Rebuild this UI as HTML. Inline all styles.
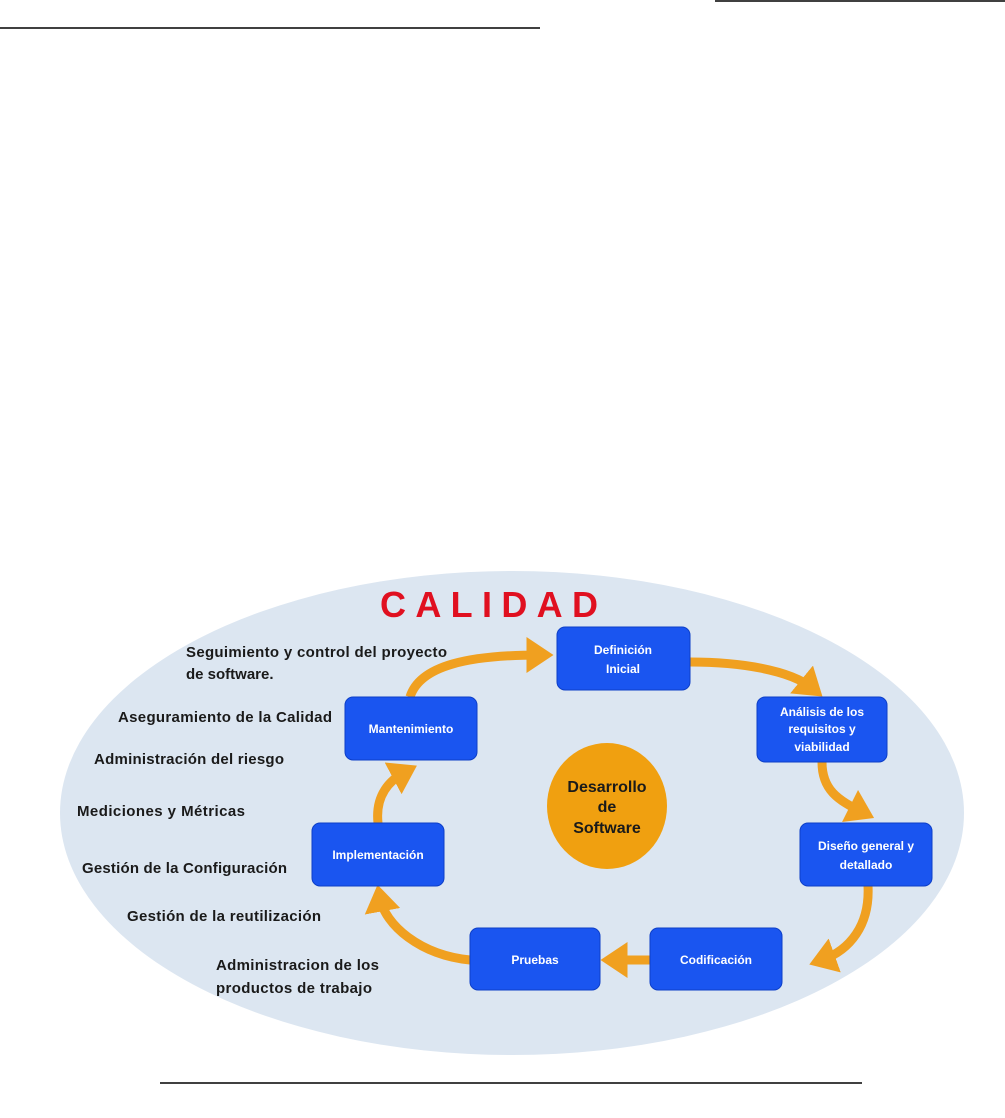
<!DOCTYPE html>
<html><head><meta charset="utf-8"><style>
html,body{margin:0;padding:0;background:#fff;width:1005px;height:1118px;overflow:hidden}
svg{display:block}
.l{font-family:"Liberation Sans",sans-serif;font-weight:bold;font-size:15px;fill:#1a1a1a}
.b{font-family:"Liberation Sans",sans-serif;font-weight:bold;font-size:12px;fill:#fff}
</style></head><body>
<svg width="1005" height="1118" viewBox="0 0 1005 1118">
<line x1="0" y1="28" x2="540" y2="28" stroke="#000" stroke-width="1.5"/>
<line x1="715" y1="1" x2="1005" y2="1" stroke="#000" stroke-width="1.5"/>
<line x1="160" y1="1083" x2="862" y2="1083" stroke="#000" stroke-width="1.5"/>
<ellipse cx="512" cy="813" rx="452" ry="242" fill="#dce6f1"/>
<text x="380" y="617" font-family="Liberation Sans,sans-serif" font-weight="bold" font-size="36" fill="#e01020" letter-spacing="10" textLength="228">CALIDAD</text>
<defs><marker id="a" markerWidth="4" markerHeight="4" refX="1.5" refY="2" orient="auto" markerUnits="strokeWidth"><path d="M0,0 L3,2 L0,4 Z" fill="#f0a020"/></marker></defs>
<g fill="none" stroke="#f0a020" stroke-width="9">
<path d="M410,697 C420,665 470,655 540,655" marker-end="url(#a)"/>
<path d="M690,662 C740,662 790,670 812,688" marker-end="url(#a)"/>
<path d="M822,762 C822,790 838,800 862,812" marker-end="url(#a)"/>
<path d="M868,886 C870,925 850,950 822,960" marker-end="url(#a)"/>
<path d="M650,960 L614,960" marker-end="url(#a)"/>
<path d="M470,960 C420,955 385,925 380,898" marker-end="url(#a)"/>
<path d="M378,823 C375,795 390,780 405,772" marker-end="url(#a)"/>
</g>
<g fill="#1a55f0" stroke="#0d3fc8" stroke-width="1">
<rect x="557" y="627" width="133" height="63" rx="8"/>
<rect x="757" y="697" width="130" height="65" rx="8"/>
<rect x="345" y="697" width="132" height="63" rx="8"/>
<rect x="800" y="823" width="132" height="63" rx="8"/>
<rect x="312" y="823" width="132" height="63" rx="8"/>
<rect x="470" y="928" width="130" height="62" rx="8"/>
<rect x="650" y="928" width="132" height="62" rx="8"/>
</g>
<ellipse cx="607" cy="806" rx="60" ry="63" fill="#f0a010"/>
<g text-anchor="middle" font-family="Liberation Sans,sans-serif" font-weight="bold" font-size="16" fill="#1a1a1a">
<text x="607" y="792">Desarrollo</text><text x="607" y="812">de</text><text x="607" y="833">Software</text>
</g>
<g text-anchor="middle" class="b">
<text class="b" x="623" y="654">Definición</text><text class="b" x="623" y="673">Inicial</text>
<text class="b" x="822" y="716">Análisis de los</text><text class="b" x="822" y="733">requisitos y</text><text class="b" x="822" y="751">viabilidad</text>
<text class="b" x="411" y="733">Mantenimiento</text>
<text class="b" x="866" y="850">Diseño general y</text><text class="b" x="866" y="869">detallado</text>
<text class="b" x="378" y="859">Implementación</text>
<text class="b" x="535" y="964">Pruebas</text>
<text class="b" x="716" y="964">Codificación</text>
</g>
<g class="l">
<text class="l" x="186" y="657" textLength="261">Seguimiento y control del proyecto</text>
<text class="l" x="186" y="679">de software.</text>
<text class="l" x="118" y="722" textLength="214">Aseguramiento de la Calidad</text>
<text class="l" x="94" y="764" textLength="190">Administración del riesgo</text>
<text class="l" x="77" y="816" textLength="168">Mediciones y Métricas</text>
<text class="l" x="82" y="873" textLength="205">Gestión de la Configuración</text>
<text class="l" x="127" y="921" textLength="194">Gestión de la reutilización</text>
<text class="l" x="216" y="970" textLength="163">Administracion de los</text>
<text class="l" x="216" y="993" textLength="156">productos de trabajo</text>
</g>
</svg>
</body></html>
